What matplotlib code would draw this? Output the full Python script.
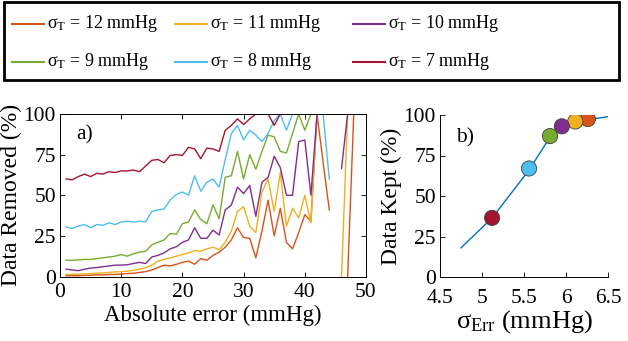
import numpy as np
import matplotlib
matplotlib.use("Agg")
import matplotlib.pyplot as plt
from matplotlib.patches import Rectangle
from matplotlib.lines import Line2D

plt.rcParams['font.family'] = ['Liberation Serif', 'DejaVu Serif']
plt.rcParams['mathtext.fontset'] = 'custom'
plt.rcParams['mathtext.rm'] = 'Liberation Serif'
plt.rcParams['mathtext.it'] = 'Liberation Serif:italic'

nan = np.nan
abs_err = list(range(1, 51))

removed_12 = [0.5, 0.5, 0.5, 0.7, 0.8, 1, 1, 1.2, 1.3, 1.5,
              1.8, 2, 2.5, 3, 4, 5.5, 7, 6.5, 7.5, 8.7,
              9.5, 7.5, 11, 10, 13, 15, 18, 22.5, 30, 24,
              23.5, 11.5, 28, 47, 25, 42, 21, 17, 27, 38,
              34, 100, 70, 41, nan, nan, 0, 100, 100, 100]
removed_11 = [1.3, 1.3, 1.5, 1.6, 1.8, 2, 2.2, 2.5, 2.8, 3,
              3.3, 3.8, 4.5, 5.5, 7, 9.5, 10.5, 11.5, 12.5, 13.5,
              14.5, 16, 15.5, 17, 18, 16.5, 21, 28, 40, 43,
              31, 27, 52, 60, 40, 64, 31, 42, 36, 50,
              33, 100, 100, 100, nan, 0, 100, 100, 100, 100]
removed_10 = [4.5, 4, 3.6, 4.5, 5.2, 5.5, 6, 6.5, 7, 7,
              7.2, 8, 8.7, 8, 12, 13, 14.5, 17, 18.3, 21,
              22.5, 30, 23.5, 23.5, 28.5, 25.5, 41, 44, 55, 51,
              56, 37, 58, 61, 74, 67, 50, 50, 83, 84,
              50, 100, 100, 100, nan, 66.5, 100, 100, 100, 100]
removed_9 = [10, 10, 10.2, 10.5, 10.5, 11, 11.5, 12, 12.5, 13.5,
             12.5, 14, 15, 15.5, 19.5, 21, 22.5, 26.5, 26, 32.5,
             33.5, 41, 35, 32.5, 44, 35.5, 61, 62, 77, 60,
             75, 66, 77, 87, 86, 77, 76, 88, 100, 90,
             100, 100, 100, 100, 100, 100, 100, 100, 100, 100]
removed_8 = [30.5, 29.5, 31, 32, 30, 32, 31.5, 33, 32, 33.5,
             34, 33.5, 34, 33.7, 40, 41, 41.5, 47, 50.5, 52,
             50, 62, 52.5, 58, 60, 55, 72, 88, 93, 84,
             90, 87, 83, 88, 96, 100, 90, 100, 100, 100,
             100, 100, 100, 60, nan, nan, nan, nan, nan, nan]
removed_7 = [60, 59.5, 61.5, 63, 61.5, 63.5, 63, 64.5, 64, 65,
             65, 65.5, 64.5, 68, 71.5, 72, 70, 74.5, 75, 74.5,
             79.5, 78.5, 72.5, 79, 78.5, 77, 90, 93, 97, 93.5,
             97, 100, 100, 100, 93, 100, 100, 100, 100, 100,
             100, 100, 100, 100, 100, 100, 100, 100, 100, 100]

series_labels = ['12', '11', '10', '9', '8', '7']
series_colors = ['#D95319', '#EDB120', '#7E2F8E', '#77AC30', '#4DBEEE', '#A2142F']
series_values = [removed_12, removed_11, removed_10, removed_9, removed_8, removed_7]

# panel b
curve_sigma_err = [4.75, 5.12, 5.56, 5.81, 5.95, 6.11, 6.26, 6.5]
curve_kept = [18, 36.4, 66, 86.4, 92.6, 95.7, 97, 99]
pt_sigma_err = [6.26, 6.11, 5.95, 5.81, 5.56, 5.12]
pt_kept = [97.5, 96, 93, 87, 67, 36.5]

W, H = 628, 341
fig = plt.figure(figsize=(W / 100, H / 100), dpi=100)

def fx(x):
    return x / W

def fy(y):
    return 1 - y / H

tick_fs = 15.5

ax = fig.add_axes([fx(60), fy(276.5), (366 - 60) / W, 162.5 / H])
for vals, col in zip(series_values, series_colors):
    ax.plot(abs_err, vals, color=col, lw=1.0)
ax.set_xlim(0, 50)
ax.set_ylim(0, 100)
ax.set_xticks(range(0, 51, 10))
ax.set_yticks(range(0, 101, 25))
ax.tick_params(direction='in', top=True, right=True, length=3.5, width=0.6,
               labelsize=tick_fs)
ax.tick_params(axis='x', pad=5)
ax.tick_params(axis='y', pad=3)
for s in ax.spines.values():
    s.set_linewidth(0.7)
ax.set_xlabel('Absolute error (mmHg)', fontsize=16.5, labelpad=1.5)
ax.set_ylabel('Data Removed (%)', fontsize=17, labelpad=1)
ax.text(2.6, 87, 'a)', fontsize=15.5, va='center', ha='left')

bx = fig.add_axes([fx(440), fy(277), 168 / W, 162 / H])
bx.plot(curve_sigma_err, curve_kept, color='#0072BD', lw=1.0, zorder=2)
bx.scatter(pt_sigma_err, pt_kept, s=120, c=series_colors, edgecolors='#404040',
           linewidths=0.6, zorder=3)
bx.set_xlim(4.5, 6.5)
bx.set_ylim(0, 100)
bx.set_xticks([4.5, 5, 5.5, 6, 6.5])
bx.set_xticklabels(['4.5', '5', '5.5', '6', '6.5'])
bx.set_yticks(range(0, 101, 25))
bx.spines['top'].set_visible(False)
bx.spines['right'].set_visible(False)
for s in bx.spines.values():
    s.set_linewidth(0.7)
bx.tick_params(direction='in', length=3.5, width=0.6, labelsize=tick_fs)
bx.tick_params(axis='x', pad=8.5)
bx.tick_params(axis='y', pad=3)
bx.set_xlabel(r'$\mathrm{σ_{Err}}$ (mmHg)', fontsize=19, labelpad=0.5)
bx.set_ylabel('Data Kept (%)', fontsize=17, labelpad=1)
bx.text(4.69, 86, 'b)', fontsize=15.5, va='center', ha='left')

# legend box
rect = Rectangle((fx(4), fy(80)), (619 - 4) / W, (80 - 2) / H,
                 transform=fig.transFigure, fill=False, edgecolor='black', lw=2.0)
fig.patches.append(rect)
col_x = [12, 175, 353]
row_y = [24, 62]
for i, (lab, col) in enumerate(zip(series_labels, series_colors)):
    r, c = divmod(i, 3)
    x0 = col_x[c]
    y0 = row_y[r]
    fig.add_artist(Line2D([fx(x0), fx(x0 + 32)], [fy(y0), fy(y0)],
                          transform=fig.transFigure, color=col, lw=1.5))
    fig.text(fx(x0 + 35), fy(y0), r'$\mathrm{σ_T}$ = ' + lab + ' mmHg',
             fontsize=13, va='center', ha='left')

fig.savefig('out.png', dpi=100)
